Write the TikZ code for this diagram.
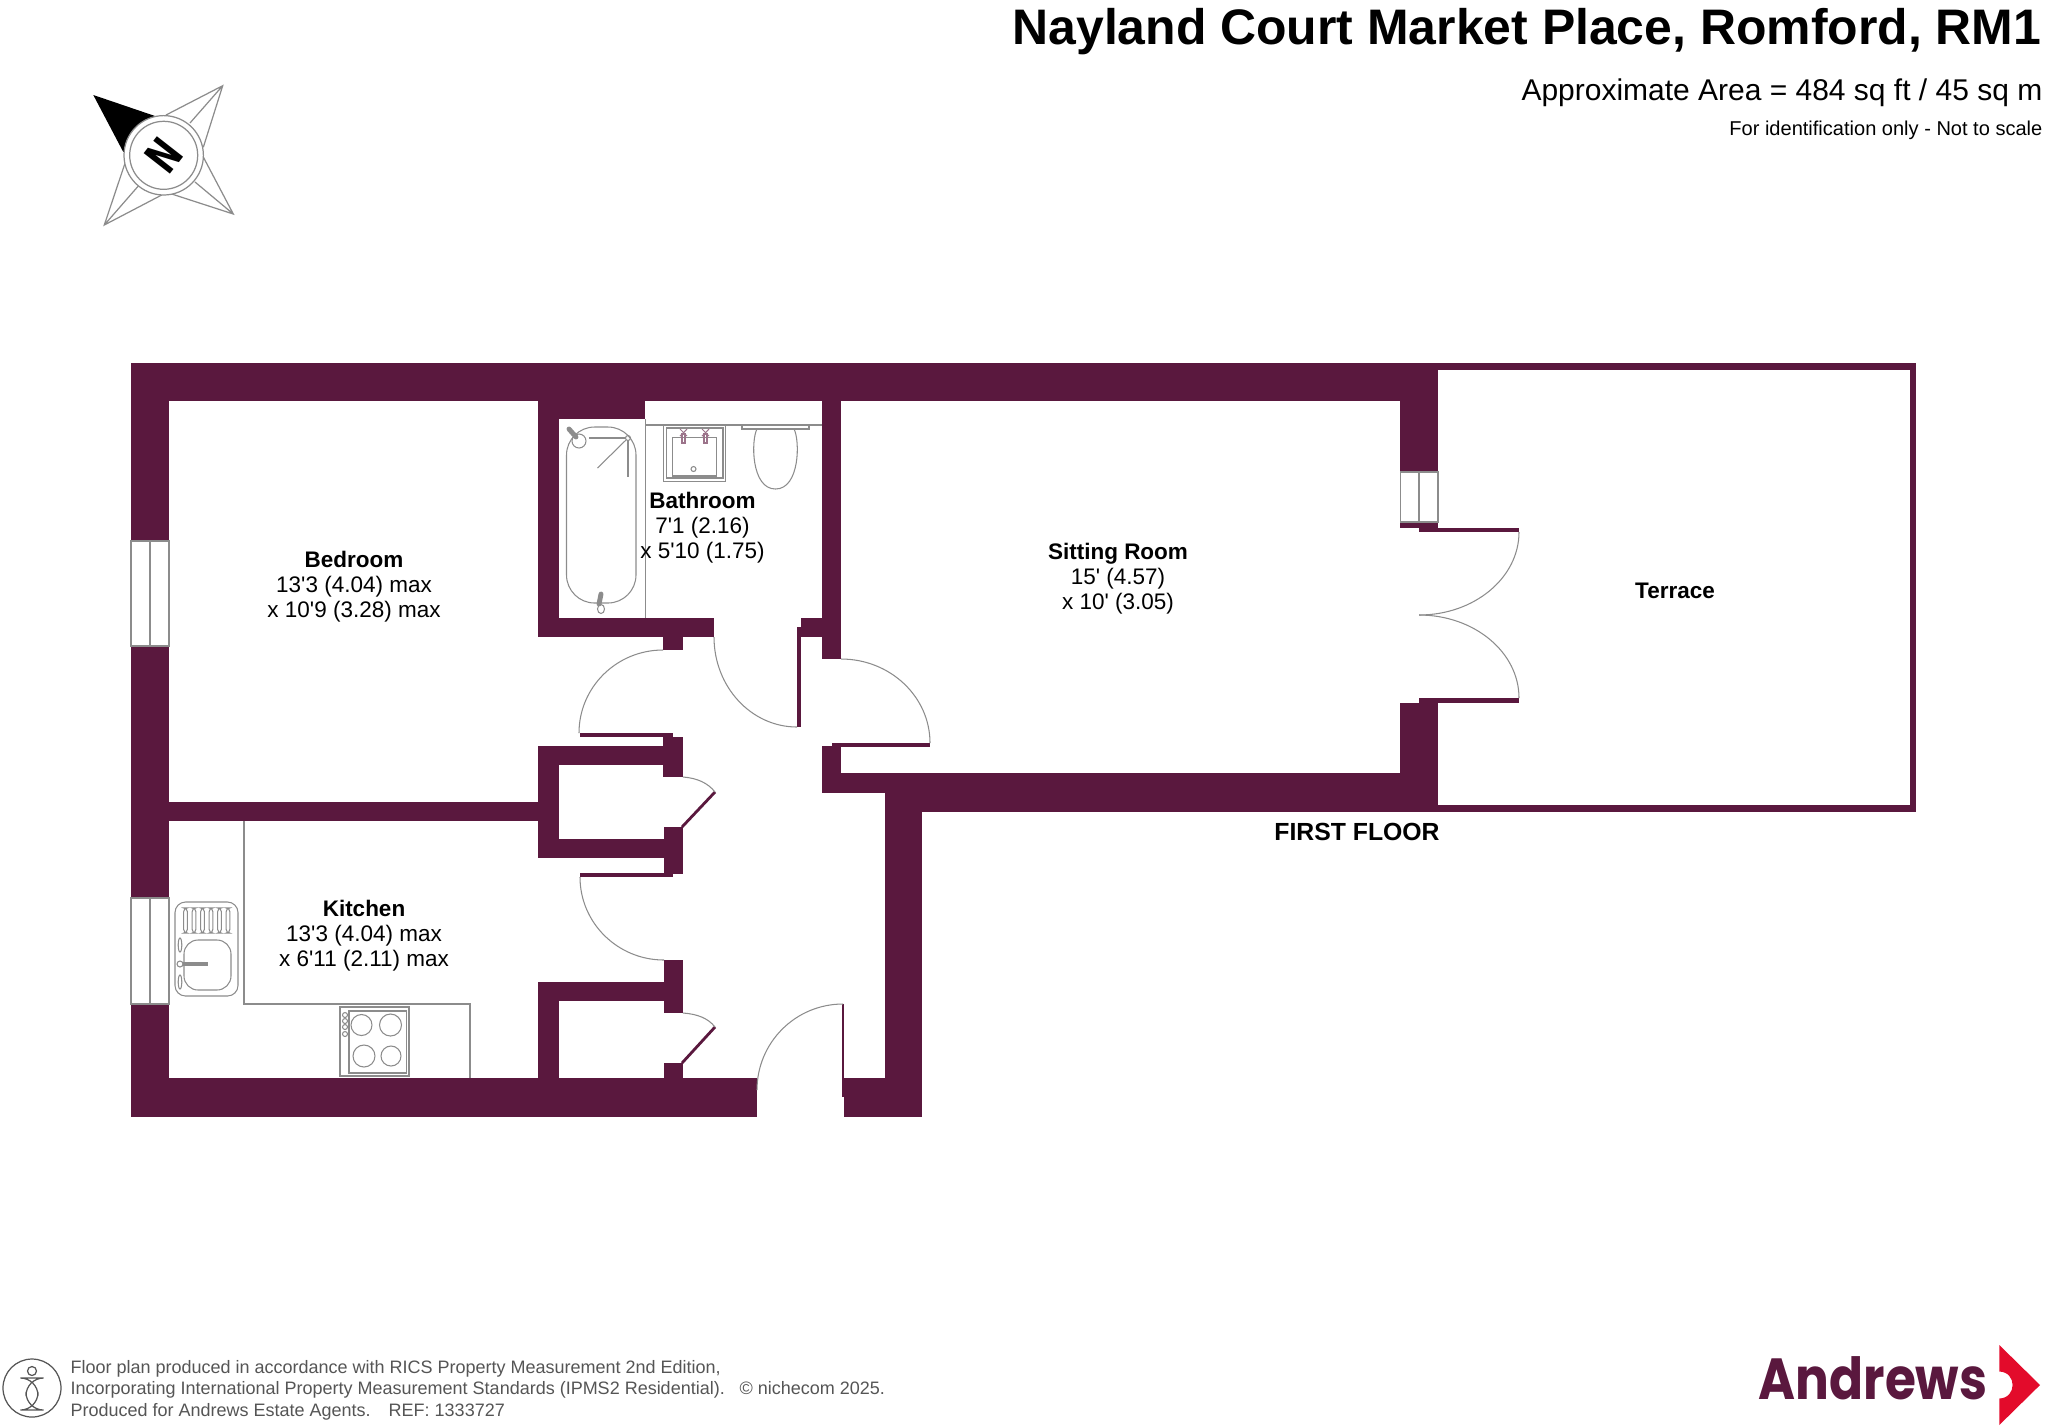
\documentclass[tikz,border=0pt]{standalone}
\usepackage{fontspec}
\usepackage{xcolor}
\newfontfamily\planfont{Liberation Sans}
\newfontfamily\logofont{Poppins}
\newfontfamily\northfont{DejaVu Sans}
\definecolor{wallcol}{HTML}{5A183E}
\definecolor{fixcol}{HTML}{8C8C8C}
\definecolor{footcol}{HTML}{555555}
\definecolor{logored}{HTML}{E30B2B}
\usetikzlibrary{positioning}
\tikzset{
  wall/.style={fill=wallcol, draw=none},
  leaf/.style={draw=wallcol, line width=0.8pt},
  swing/.style={draw=fixcol, line width=0.3pt},
  fixture/.style={draw=fixcol, line width=0.3pt},
  tapcol/.style={draw=wallcol!60, line width=0.3pt},
  roomlabel/.style={font=\planfont\fontsize{6.4}{7.15}\selectfont, align=center, inner sep=0pt},
}
\begin{document}
\begin{tikzpicture}[x=0.1mm, y=-0.1mm]
\useasboundingbox (0,0) rectangle (2048,1427);

% Walls
\foreach \xa/\ya/\xb/\yb in {
  131/363/1438/401, 131/363/169/541, 131/646/169/898, 131/1004/169/1117, 131/1078/757/1117,
  169/802/538/821, 538/401/559/637, 538/401/645/419, 538/618/714/637, 663/637/683/650,
  801/618/822/637, 822/401/841/659, 538/746/663/765, 538/765/559/858, 663/737/683/777,
  538/839/664/858, 664/827/683/874, 664/960/683/1013, 538/982/664/1001, 538/982/559/1078,
  664/1063/683/1078, 844/1078/922/1117, 885/792/922/1078, 822/746/841/793, 822/773/1438/793,
  885/773/1438/812, 1400/401/1438/472, 1400/522/1438/528, 1419/522/1438/532, 1400/703/1438/812,
  1419/698/1438/703, 1438/363/1916/370, 1910/363/1916/812, 1438/805/1916/812}
  \fill[wall] (\xa,\ya) rectangle (\xb,\yb);

% Door leaves
\foreach \xa/\ya/\xb/\yb in {
  797/627/801/727, 580/733/673/737, 580/873/673/877, 832/743/930/747, 842/1004/844/1097,
  1419/528/1519/532, 1419/698/1519/703}
  \fill[wall] (\xa,\ya) rectangle (\xb,\yb);
\draw[leaf] (715,792) -- (682,827);
\draw[leaf] (715,1027) -- (682,1063);

% Door swings
\draw[swing] (714,637) arc[start angle=180, end angle=90, x radius=83, y radius=90];
\draw[swing] (663,650) arc[start angle=-90, end angle=-180, x radius=84, y radius=83];
\draw[swing] (841,659) arc[start angle=-90, end angle=0, x radius=89, y radius=84];
\draw[swing] (580,877) arc[start angle=180, end angle=90, x radius=84, y radius=83];
\draw[swing] (757,1090) arc[start angle=180, end angle=270, x radius=86, y radius=86];
\draw[swing] (683,777) .. controls (697,778) and (708,783) .. (715,792);
\draw[swing] (683,1013) .. controls (697,1014) and (708,1018) .. (715,1027);
\draw[swing] (1519,532) arc[start angle=0, end angle=90, x radius=100, y radius=83];
\draw[swing] (1419,615) arc[start angle=-90, end angle=0, x radius=100, y radius=83];

% Windows
\foreach \ya/\yb in {541/646, 898/1004} {
  \draw[fixture] (131,\ya) rectangle (169,\yb);
  \draw[fixture] (150,\ya) -- (150,\yb);
}
\draw[fixture] (1400.5,472) rectangle (1438,522);
\draw[fixture] (1419,472) -- (1419,522);

% Kitchen units
\draw[fixture] (244,821) -- (244,1004) -- (470,1004) -- (470,1078);
\draw[fixture, rounded corners=3] (175,902) rectangle (238,996);
\foreach \x in {185.5,194,202.5,211,219.5,228}
  \draw[fixture, rounded corners=1] (\x-1.8,908) rectangle (\x+1.8,933);
\draw[fixture, rounded corners=4] (184,940) rectangle (231,990);
\draw[fixture] (180,945) ellipse[x radius=1.8, y radius=7];
\draw[fixture] (180,982) ellipse[x radius=1.8, y radius=7];
\draw[fixture] (180,964) circle[radius=3];
\draw[fixture, line width=1pt] (183,964) -- (208,964);
\draw[fixture] (340,1007) rectangle (409,1076);
\draw[fixture] (349,1011) rectangle (406.5,1073);
\draw[fixture] (361.5,1025) circle[radius=10.5];
\draw[fixture] (390.5,1025) circle[radius=11];
\draw[fixture] (364,1056) circle[radius=11];
\draw[fixture] (391,1056) circle[radius=10];
\foreach \y in {1015,1021,1027,1034}
  \draw[fixture] (345,\y) circle[radius=2.5];

% Bathroom
\draw[fixture] (645.5,419) -- (645.5,618);
\draw[fixture] (645.5,425) -- (822,425);
\draw[fixture, rounded corners=8] (566.5,427) rectangle (636,603);
\draw[fixture] (579,441) circle[radius=7];
\draw[fixture, line width=1.4pt, line cap=round] (569,429) -- (576,437);
\draw[fixture] (628,438) circle[radius=2.5];
\draw[fixture] (625.5,438) -- (589,438);
\draw[fixture] (626,440) -- (597.5,468);
\draw[fixture] (628,440.5) -- (628,477);
\draw[fixture, line width=1.4pt, line cap=round] (601,594) -- (599,604);
\draw[fixture] (601,609) ellipse[x radius=3.5, y radius=4.5];
\draw[fixture] (663.5,425.5) rectangle (725.5,481.5);
\draw[fixture] (666.5,428) rectangle (723,478);
\draw[fixture] (672.5,437.5) rectangle (716.5,476);
\draw[fixture] (693.5,469) circle[radius=2.5];
\foreach \x in {683.5,705.5} {
  \draw[tapcol] (\x-3.5,429) -- (\x+3.5,436);
  \draw[tapcol] (\x-3.5,436) -- (\x+3.5,429);
  \draw[tapcol] (\x-1.5,434) rectangle (\x+1.5,443);
}
\draw[fixture] (742,425) rectangle (809,429);
\draw[fixture] (757,429) .. controls (751,440) and (751,489) .. (775.5,489) .. controls (800,489) and (800,440) .. (794,429);

% Compass
\fill[black] (93.3,95) -- (155,116) -- (123.3,152) -- cycle;
\foreach \tx/\ty/\ax/\ay/\mx/\my/\bx/\by in {
  222.7/85.7/166/115/190/123/203.3/147.3,
  233.3/214/203.3/157/195/182/171.7/194,
  104.3/225/161.7/195/138.3/186/125/163.3}
  \draw[fixture, line width=0.35pt] (\ax,\ay) -- (\tx,\ty) -- (\bx,\by) (\tx,\ty) -- (\mx,\my);
\draw[fixture, line width=0.35pt, fill=white] (163.7,155.3) circle[radius=39.7];
\draw[fixture, line width=0.35pt] (163.7,155.3) circle[radius=34];
\node[font=\northfont\bfseries\fontsize{13}{13}\selectfont, rotate=52, inner sep=0pt] (northmark) at (163.7,155) {\scalebox{0.72}[1]{N}};

% Room labels
\node[roomlabel] (bedroom) at (354,586.3) {\textbf{Bedroom}\\13'3 (4.04) max\\x 10'9 (3.28) max};
\node[roomlabel] (bathroom) at (702.5,527.5) {\textbf{Bathroom}\\7'1 (2.16)\\x 5'10 (1.75)};
\node[roomlabel] (sitting) at (1118,579) {\textbf{Sitting Room}\\15' (4.57)\\x 10' (3.05)};
\node[roomlabel] (kitchen) at (364,936) {\textbf{Kitchen}\\13'3 (4.04) max\\x 6'11 (2.11) max};
\node[roomlabel, font=\planfont\bfseries\fontsize{6.4}{7.15}\selectfont] (terrace) at (1675,591) {Terrace};
\node[roomlabel, font=\planfont\bfseries\fontsize{7.05}{8}\selectfont] (floorname) at (1357,832) {FIRST FLOOR};

% Heading
\node[font=\planfont\bfseries\fontsize{14.2}{16}\selectfont, anchor=base east, inner sep=0pt] (title) at (2042,44) {Nayland Court Market Place, Romford, RM1};
\node[font=\planfont\fontsize{8.53}{10}\selectfont, anchor=base east, inner sep=0pt] (area) at (2043,100) {Approximate Area = 484 sq ft / 45 sq m};
\node[font=\planfont\fontsize{5.7}{7}\selectfont, anchor=base east, inner sep=0pt] (idnote) at (2043,135.5) {For identification only - Not to scale};

% Footer
\draw[footcol, line width=0.35pt] (32,1388) ellipse[x radius=29, y radius=29];
\draw[footcol, line width=0.35pt] (32,1371) circle[radius=4.5];
\draw[footcol, line width=0.35pt, rounded corners=5] (26,1378) rectangle (38,1410);
\node[font=\planfont\fontsize{5.12}{6.1}\selectfont, text=footcol, anchor=west, align=left, inner sep=0pt] (footnote) at (70,1390)
  {Floor plan produced in accordance with RICS Property Measurement 2nd Edition,\\Incorporating International Property Measurement Standards (IPMS2 Residential).\hspace{4.2pt}© nichecom 2025.\\Produced for Andrews Estate Agents.\quad REF: 1333727};

% Logo
\node[font=\logofont\bfseries\fontsize{16.5}{18}\selectfont, text=wallcol, anchor=base west, inner sep=0pt] (brand) at (1758,1399) {\scalebox{0.865}[1]{Andrews}};
\fill[logored] (1999.3,1345) -- (2040,1385) -- (1999.3,1425) -- (1999.3,1398.5) .. controls (2017,1398) and (2017,1372) .. (1999.3,1371.5) -- cycle;
\end{tikzpicture}
\end{document}
